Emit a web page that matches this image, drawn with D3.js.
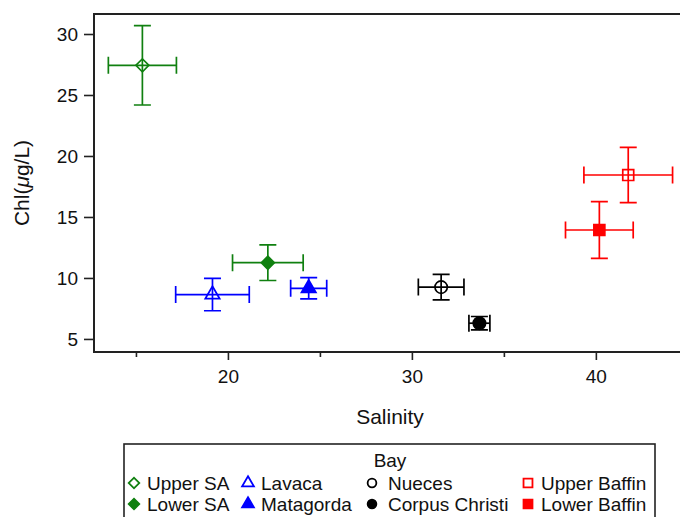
<!DOCTYPE html>
<html>
<head>
<meta charset="utf-8">
<script src="https://cdn.jsdelivr.net/npm/d3@7"></script>
<style>
  body { margin: 0; background: #fff; }
  svg { display: block; font-family: "Liberation Sans", Arial, sans-serif; }
</style>
</head>
<body>
<div class="chart"></div>
<script>
const bays = ["Upper SA", "Lower SA", "Lavaca", "Matagorda", "Nueces", "Corpus Christi", "Upper Baffin", "Lower Baffin"]
const salinity = [15.35, 22.17, 19.16, 24.39, 31.59, 33.67, 41.76, 40.19]
const salinityErr = [1.85, 1.92, 2.0, 0.98, 1.24, 0.57, 2.41, 1.84]
const chl = [27.43, 11.25, 8.64, 9.15, 9.25, 6.29, 18.44, 13.93]
const chlErr = [3.25, 1.46, 1.33, 0.87, 1.05, 0.55, 2.27, 2.32]
const xTicks = [20, 30, 40]
const xMinorTicks = [15, 25, 35]
const yTicks = [5, 10, 15, 20, 25, 30]
// legend order: two rows, four columns
const legendOrder = ["Upper SA", "Lavaca", "Nueces", "Upper Baffin", "Lower SA", "Matagorda", "Corpus Christi", "Lower Baffin"]

const width = 680, height = 517
const margin = ({top: 14, right: -6, bottom: 165, left: 94})

const color = d3.scaleOrdinal()
    .domain(bays)
    .range(["#108010", "#108010", "#0000ff", "#0000ff", "#000", "#000", "#ff0000", "#ff0000"])

const shape = d3.scaleOrdinal()
    .domain(bays)
    .range(["diamond", "diamond", "triangle", "triangle", "circle", "circle", "square", "square"])

const filled = d => bays.indexOf(d) % 2 == 1

const xScale = d3.scaleLinear()
    .domain([12.72, 44.9])
    .range([margin.left, width - margin.right])

const yScale = d3.scaleLinear()
    .domain([3.93, 31.64])
    .range([height - margin.bottom, margin.top])

const symbolPath = (name, size) => {
    if (name == "diamond") return d3.symbol(d3.symbolSquare, size * 0.7)()
    if (name == "triangle") return d3.symbol(d3.symbolTriangle, size * 0.75)()
    if (name == "circle") return d3.symbol(d3.symbolCircle, size)()
    return d3.symbol(d3.symbolSquare, size)()
}

const svg = d3.select(".chart").append("svg")
    .attr("width", width)
    .attr("height", height)

// frame
svg.append("rect")
    .attr("x", margin.left)
    .attr("y", margin.top)
    .attr("width", width - margin.right - margin.left)
    .attr("height", height - margin.bottom - margin.top)
    .attr("fill", "none")
    .attr("stroke", "#222")
    .attr("stroke-width", 2)

const yAxis = svg.append("g")
    .attr("transform", `translate(${margin.left},0)`)
    .call(d3.axisLeft(yScale).tickValues(yTicks).tickSize(10).tickPadding(6))
yAxis.select(".domain").remove()

const xAxis = svg.append("g")
    .attr("transform", `translate(0,${height - margin.bottom})`)
    .call(d3.axisBottom(xScale).tickValues(xTicks).tickSize(8).tickPadding(10))
xAxis.select(".domain").remove()

svg.append("g")
    .attr("transform", `translate(0,${height - margin.bottom})`)
    .call(d3.axisBottom(xScale).tickValues(xMinorTicks).tickSize(5).tickFormat(""))
    .select(".domain").remove()

svg.selectAll(".tick line").attr("stroke", "#222").attr("stroke-width", 1.6)
svg.selectAll(".tick text")
    .attr("font-size", 19)
    .attr("font-family", "'Liberation Sans', Arial, sans-serif")
    .attr("fill", "#111")

svg.append("text")
    .attr("x", (margin.left + width - margin.right) / 2)
    .attr("y", 424)
    .attr("text-anchor", "middle")
    .attr("font-size", 21)
    .attr("fill", "#111")
    .text("Salinity")

const yLabel = svg.append("text")
    .attr("transform", `translate(29,${(margin.top + height - margin.bottom) / 2}) rotate(-90)`)
    .attr("text-anchor", "middle")
    .attr("font-size", 21)
    .attr("fill", "#111")
yLabel.append("tspan").text("Chl(")
yLabel.append("tspan").attr("font-style", "italic").text("\u03bc")
yLabel.append("tspan").text("g/L)")

// points with error bars
const pts = bays.map((b, i) => ({bay: b, x: salinity[i], xe: salinityErr[i], y: chl[i], ye: chlErr[i]}))
const cap = 8.5

const groups = svg.append("g")
    .selectAll("g")
    .data(pts)
    .enter()
    .append("g")
        .attr("stroke", d => color(d.bay))
        .attr("stroke-width", 1.7)
        .attr("fill", "none")

groups.append("line")
    .attr("x1", d => xScale(d.x - d.xe)).attr("x2", d => xScale(d.x + d.xe))
    .attr("y1", d => yScale(d.y)).attr("y2", d => yScale(d.y))
groups.append("line")
    .attr("x1", d => xScale(d.x)).attr("x2", d => xScale(d.x))
    .attr("y1", d => yScale(d.y - d.ye)).attr("y2", d => yScale(d.y + d.ye))
// caps
groups.append("path")
    .attr("d", d => {
        const l = xScale(d.x - d.xe), r = xScale(d.x + d.xe), cy = yScale(d.y)
        const t = yScale(d.y + d.ye), b = yScale(d.y - d.ye), cx = xScale(d.x)
        return `M${l},${cy - cap}V${cy + cap}M${r},${cy - cap}V${cy + cap}` +
               `M${cx - cap},${t}H${cx + cap}M${cx - cap},${b}H${cx + cap}`
    })

groups.append("path")
    .attr("d", d => symbolPath(shape(d.bay), 120))
    .attr("transform", d => `translate(${xScale(d.x)},${yScale(d.y)})` + (shape(d.bay) == "diamond" ? " rotate(45)" : ""))
    .attr("fill", d => filled(d.bay) ? color(d.bay) : "none")

// legend
const lg = svg.append("g").attr("class", "legend")
lg.append("rect")
    .attr("x", 124).attr("y", 444)
    .attr("width", 531).attr("height", 90)
    .attr("fill", "none").attr("stroke", "#222").attr("stroke-width", 1.6)

lg.append("text")
    .attr("x", 390).attr("y", 467)
    .attr("text-anchor", "middle")
    .attr("font-size", 19)
    .attr("fill", "#111")
    .text("Bay")

const colX = [134, 248, 372, 528]
const rowY = [483, 504]

const items = lg.selectAll("g.item")
    .data(legendOrder)
    .enter()
    .append("g")
        .attr("class", "item")
        .attr("transform", (d, i) => `translate(${colX[i % 4]},${rowY[Math.floor(i / 4)]})`)

items.append("path")
    .attr("d", d => symbolPath(shape(d), shape(d) == "circle" ? 60 : 80))
    .attr("transform", d => shape(d) == "diamond" ? "rotate(45)" : "")
    .attr("stroke", d => shape(d) == "circle" ? "#000" : color(d))
    .attr("stroke-width", 1.8)
    .attr("fill", d => filled(d) ? color(d) : "#fff")

items.append("text")
    .attr("x", d => shape(d) == "circle" ? 16 : 13)
    .attr("y", 7)
    .attr("font-size", 19)
    .attr("fill", "#111")
    .text(d => d)
</script>
</body>
</html>
